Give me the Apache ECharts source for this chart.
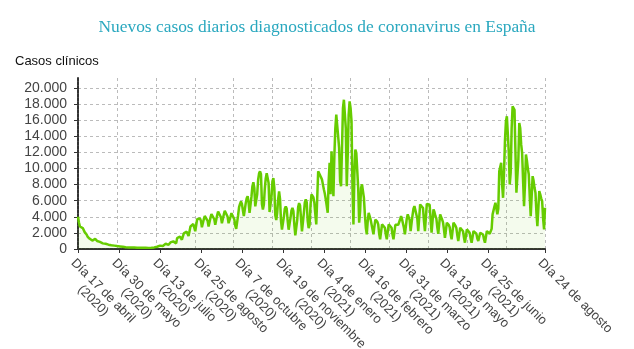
<!DOCTYPE html>
<html>
<head>
<meta charset="utf-8">
<script src="https://cdn.jsdelivr.net/npm/echarts@6/dist/echarts.min.js"></script>
<style>html,body{margin:0;padding:0;background:#fff}#c{width:634px;height:349px}</style>
</head>
<body>
<div id="c"></div>
<script>
const titleText = 'Nuevos casos diarios diagnosticados de coronavirus en España';
const yAxisTitle = 'Casos clínicos';
const tickIndex = [0, 43, 86, 129, 172, 215, 258, 301, 344, 387, 430, 490];
const tickLabels = [
  'Día 17 de abril\n(2020)', 'Día 30 de mayo\n(2020)', 'Día 13 de julio\n(2020)',
  'Día 25 de agosto\n(2020)', 'Día 7 de octubre\n(2020)', 'Día 19 de noviembre\n(2020)',
  'Día 4 de enero\n(2021)', 'Día 16 de febrero\n(2021)', 'Día 31 de marzo\n(2021)',
  'Día 13 de mayo\n(2021)', 'Día 25 de junio\n(2021)', 'Día 24 de agosto'
];
const cases = [
  4000, 3300, 2800, 2900, 2850, 2600, 2400, 2100, 1900, 1800,
  1550, 1450, 1300, 1250, 1150, 1050, 1100, 1150, 1250, 1200,
  1000, 900, 820, 880, 920, 850, 700, 620, 600, 650,
  620, 560, 540, 520, 480, 470, 500, 460, 420, 400,
  380, 360, 350, 330, 320, 300, 290, 270, 240, 230,
  210, 220, 200, 190, 180, 200, 190, 170, 160, 180,
  170, 160, 150, 170, 180, 160, 150, 170, 160, 150,
  140, 160, 170, 150, 140, 160, 170, 160, 150, 180,
  200, 190, 230, 280, 330, 400, 420, 470, 400, 380,
  560, 620, 650, 680, 650, 520, 500, 820, 880, 900,
  950, 900, 720, 700, 1350, 1450, 1500, 1550, 1450, 1150,
  1100, 1950, 2000, 2100, 2150, 2000, 1600, 1550, 2800, 2900,
  3000, 3100, 2900, 2200, 2100, 3700, 3850, 3900, 3800, 3500,
  2700, 2550, 3700, 4100, 4200, 4050, 3500, 2800, 2600, 3900,
  4350, 4500, 4350, 3700, 3000, 2800, 4200, 4650, 4800, 4650,
  3950, 3200, 3000, 4300, 4750, 4900, 4700, 4000, 3200, 3000,
  4000, 4450, 4600, 4450, 3700, 2900, 2500, 2400, 4200, 5200,
  5600, 5900, 5600, 4800, 4100, 4300, 5700, 6300, 6550, 5800,
  4500, 4600, 6500, 7800, 8300, 7600, 5300, 5100, 6800, 8600,
  9400, 9650, 9300, 5600, 4900, 5500, 7500, 8800, 9400, 9550,
  8200, 4600, 4500, 6500, 8400, 8800, 7600, 4200, 3600, 4500,
  6200, 7150, 6200, 3500, 2400, 2500, 4000, 5000, 5300, 5000,
  3500, 2400, 2450, 3900, 4800, 5100, 4700, 3000, 1700, 1600,
  3600, 5200, 5700, 5400, 3800, 2200, 2300, 4500, 5800, 6150,
  5800, 3500, 2600, 3000, 5500, 6800, 6600, 6400, 5750, 4300,
  3050, 6350, 9670, 9450, 9170, 8900, 8640, 8000, 7400, 6860,
  6150, 5330, 4500, 8430, 10700, 6800, 12150, 9250, 6570, 11700,
  15000, 16700, 16780, 16900, 12560, 8430, 7800, 12560, 17500, 18550,
  18430, 15000, 7800, 11700, 16700, 18350, 17500, 15870, 7600, 3060,
  9250, 12350, 11940, 11735, 7600, 3260, 4700, 7600, 8020, 7800,
  6360, 4300, 2640, 1820, 3470, 4500, 4090, 3680, 3470, 2440,
  1820, 2800, 3650, 3600, 3400, 3050, 1900, 1200, 1400, 3060,
  3000, 2900, 2640, 1800, 1200, 1350, 3060, 3050, 2900, 2640,
  1800, 1200, 1250, 3000, 3100, 3050, 3000, 3060, 3700, 4090,
  3700, 3470, 2600, 1820, 2000, 3800, 4300, 4100, 3600, 2230,
  2300, 4200, 5000, 5330, 5300, 5330, 3800, 2230, 2400, 5540,
  5400, 5330, 5100, 3500, 2230, 2400, 5600, 5740, 5740, 5500,
  3600, 2025, 2200, 4920, 4600, 4090, 3800, 2700, 1900, 2100,
  4300, 4100, 3680, 3300, 2400, 1400, 1600, 3260, 3200, 3000,
  2700, 1800, 1200, 1400, 3260, 3100, 2900, 2600, 1700, 990,
  1100, 2640, 2550, 2400, 2200, 1400, 785, 900, 2440, 2400,
  2250, 2000, 1300, 785, 900, 2230, 2200, 2100, 1900, 1300,
  990, 1100, 2025, 2000, 1950, 1800, 1200, 785, 950, 2230,
  2100, 2000, 1900, 1820, 2500, 4300, 4800, 5300, 5740, 5500,
  4300, 5000, 9670, 10200, 10700, 8000, 6360, 9500, 13500, 15870,
  16500, 16700, 12000, 8020, 9500, 15000, 17730, 17500, 17300, 12000,
  7000, 6780, 11000, 15660, 15000, 13000, 11940, 8500, 5330, 8000,
  11735, 11000, 10000, 9250, 6500, 4090, 6500, 9050, 8500, 7600,
  7000, 4500, 2850, 5000, 7190, 6800, 6300, 5950, 3800, 2440,
  5120
];
const yTicks = { min: 0, max: 21250, step: 2000 };
const gridSteps = 12;

const categories = cases.map((_, i) => String(i));
const isTick = (i) => tickIndex.indexOf(i) >= 0;
const fmtNum = (v) => String(v).replace(/\B(?=(\d{3})+(?!\d))/g, '.');

const chart = echarts.init(document.getElementById('c'), null, { renderer: 'canvas' });
chart.setOption({
  animation: false,
  backgroundColor: '#fff',
  title: [
    { text: titleText, left: 'center', top: 19, padding: 0,
      textStyle: { fontFamily: 'Liberation Serif', fontWeight: 'normal', fontSize: 17.4, color: '#2aa8bf' } },
    { text: yAxisTitle, left: 15, top: 55, padding: 0,
      textStyle: { fontFamily: 'Liberation Sans', fontWeight: 'normal', fontSize: 13, color: '#111' } }
  ],
  grid: { left: 78, right: 89, top: 78, bottom: 100, outerBoundsMode: 'none', containLabel: false },
  xAxis: [
    {
      type: 'category', data: categories, boundaryGap: false,
      axisLine: { lineStyle: { color: '#333', width: 2, type: [3, 1] } },
      axisTick: { show: true, interval: (i) => isTick(i), length: 4, lineStyle: { color: '#333' } },
      axisLabel: {
        interval: (i) => isTick(i), rotate: -45, margin: 7, verticalAlign: 'top',
        showMinLabel: true, showMaxLabel: true, hideOverlap: false,
        fontFamily: 'Liberation Sans', fontSize: 13, color: '#444', lineHeight: 14,
        formatter: (v, i) => {
          const k = tickIndex.indexOf(Number(v));
          if (k < 0) return '';
          return tickLabels[k].split('\n').map(s => '{a|' + s + '}').join('\n');
        },
        rich: { a: { align: 'center', fontFamily: 'Liberation Sans', fontSize: 13, color: '#444', lineHeight: 14 } }
      },
      splitLine: { show: false }
    },
    {
      type: 'value', min: 0, max: gridSteps, interval: 1, position: 'bottom',
      axisLine: { show: false }, axisTick: { show: false }, axisLabel: { show: false },
      splitLine: { show: true, showMinLine: false, lineStyle: { color: '#bbb', type: [3, 3], width: 1 } }
    }
  ],
  yAxis: {
    type: 'value', min: yTicks.min, max: yTicks.max, interval: yTicks.step,
    axisLine: { show: true, lineStyle: { color: '#333', width: 2, type: [3, 1] } },
    axisTick: { show: true, length: 4, lineStyle: { color: '#333' } },
    axisLabel: {
      showMaxLabel: false, margin: 11,
      fontFamily: 'Liberation Sans', fontSize: 14, color: '#444',
      formatter: (v) => (v % yTicks.step === 0 ? fmtNum(v) : '')
    },
    splitLine: { show: true, showMaxLine: false, showMinLine: false,
      lineStyle: { color: '#bbb', type: [3, 3], width: 1 } }
  },
  series: [{
    type: 'line', xAxisIndex: 0, data: cases, showSymbol: false, symbol: 'none',
    lineStyle: { color: '#66cc00', width: 2.5 },
    areaStyle: { color: 'rgba(102,204,0,0.1)' },
    z: 3
  }]
});
</script>
</body>
</html>
